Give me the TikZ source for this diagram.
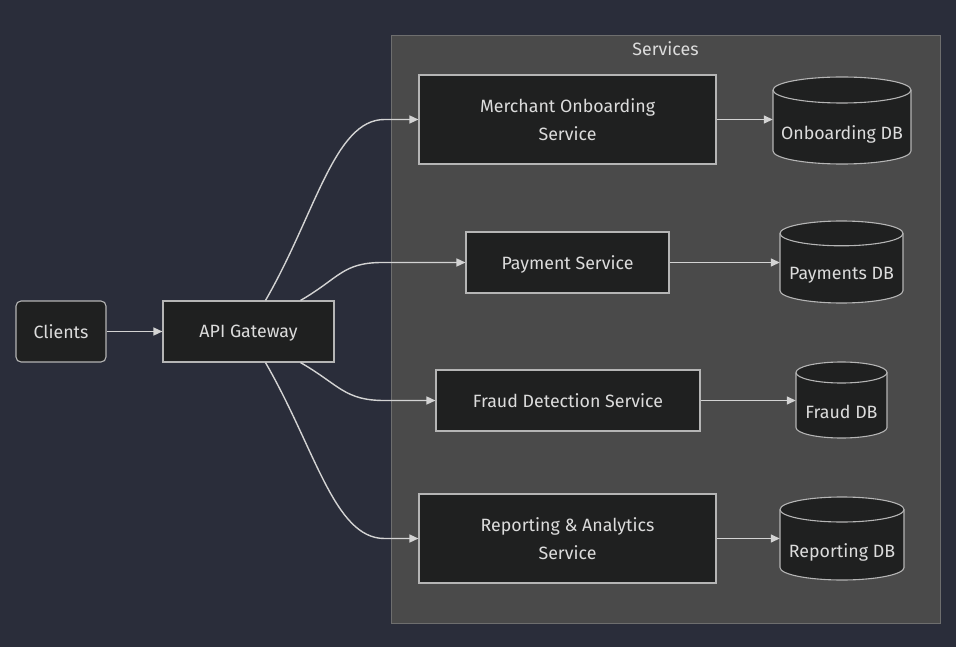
\documentclass[tikz,border=0pt]{standalone}
\usepackage{fontspec}
\setmainfont{Fira Sans}
\usepackage{xcolor}
\usepackage{tikz}
\usetikzlibrary{arrows.meta,positioning}

\definecolor{pagebg}{HTML}{2A2D3A}
\definecolor{groupbg}{HTML}{4A4A4A}
\definecolor{groupline}{HTML}{6E6E6E}
\definecolor{boxbg}{HTML}{1F2020}
\definecolor{boxline}{HTML}{B5B5B5}
\definecolor{txtcol}{HTML}{DCDCDC}
\definecolor{flowcol}{HTML}{D3D3D3}

\tikzset{
  txt/.style={text=txtcol, font=\fontsize{17.8}{28}\selectfont, align=center},
  svc/.style={draw=boxline, fill=boxbg, line width=1.1pt, inner sep=0pt, text depth=0pt, txt},
  dbbox/.style={inner sep=0pt},
  dbline/.style={draw=boxline, fill=boxbg, line width=1.1pt},
  flow/.style={draw=flowcol, line width=1.4pt, -{Triangle[length=9pt,width=8pt]}},
}

% cylinder: name, centre, half width, half height, top radius, text
\newcommand{\dbnode}[6]{%
  \begin{scope}[shift={#2}]
    \filldraw[dbline] (-#3,#4-#5) -- (-#3,-#4+#5)
      arc[start angle=180,end angle=360,x radius=#3pt,y radius=#5pt]
      -- (#3,#4-#5)
      arc[start angle=0,end angle=180,x radius=#3pt,y radius=#5pt] -- cycle;
    \draw[dbline, fill=none] (-#3,#4-#5)
      arc[start angle=180,end angle=360,x radius=#3pt,y radius=#5pt];
  \end{scope}
  \node[dbbox, minimum width=2*#3pt, minimum height=2*#4pt] (#1) at #2 {};
  \node[txt] at ([yshift=-#5pt-1pt]#1.center) {#6};
}

\begin{document}
\begin{tikzpicture}[x=1pt,y=1pt]
\fill[pagebg] (0,0) rectangle (956,-647);

% services group
\filldraw[fill=groupbg, draw=groupline, line width=1pt] (391,-36) rectangle (940,-623);
\node[txt] (grp) at (665.5,-49) {Services};

\node[svc, rounded corners=5pt, minimum width=90pt, minimum height=61pt] (clients) at (61,-331.5) {Clients};
\node[svc, minimum width=171pt, minimum height=61pt] (gw) at (248.5,-331.5) {API Gateway};

\node[svc, minimum width=297pt, minimum height=89pt] (merchant) at (567.5,-119.5) {Merchant Onboarding\\Service};
\node[svc, minimum width=203pt, minimum height=61pt] (payment) at (567.5,-262.5) {Payment Service};
\node[svc, minimum width=264pt, minimum height=61pt] (fraud) at (568,-400.5) {Fraud Detection Service};
\node[svc, minimum width=297pt, minimum height=89pt] (report) at (567.5,-538.5) {Reporting \& Analytics\\Service};

\dbnode{onbdb}{(842,-120.5)}{69}{43.5}{13}{Onboarding DB}
\dbnode{paydb}{(841.5,-262)}{61.5}{41}{12.4}{Payments DB}
\dbnode{frauddb}{(841.5,-400)}{45.5}{38}{10.5}{Fraud DB}
\dbnode{repdb}{(842,-538.5)}{62}{41.5}{12.5}{Reporting DB}

\draw[flow] (clients) -- (gw);

\draw[flow] ([xshift=17pt]gw.north) .. controls +(60:100) and +(-50,0) .. ([xshift=-34pt]merchant.west) -- (merchant.west);
\draw[flow] ([xshift=52pt]gw.north) .. controls +(30:45) and +(-40,0) .. ([xshift=-83pt]payment.west) -- (payment.west);
\draw[flow] ([xshift=52pt]gw.south) .. controls +(-30:45) and +(-40,0) .. ([xshift=-51pt]fraud.west) -- (fraud.west);
\draw[flow] ([xshift=17pt]gw.south) .. controls +(-60:100) and +(-50,0) .. ([xshift=-34pt]report.west) -- (report.west);

\draw[flow] (merchant.east) -- (merchant.east -| onbdb.west);
\draw[flow] (payment.east) -- (payment.east -| paydb.west);
\draw[flow] (fraud.east) -- (fraud.east -| frauddb.west);
\draw[flow] (report.east) -- (report.east -| repdb.west);
\end{tikzpicture}
\end{document}
